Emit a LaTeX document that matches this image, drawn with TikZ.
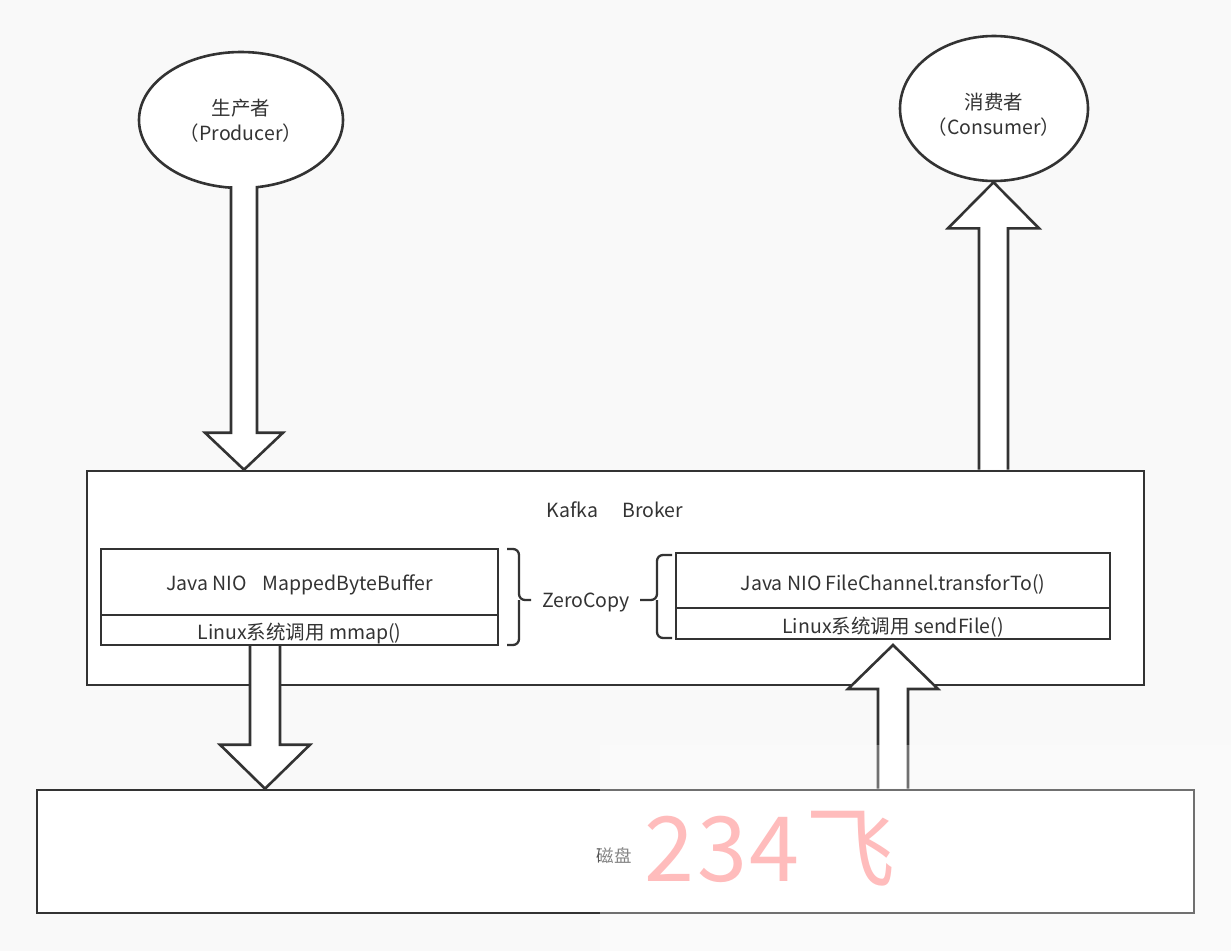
\documentclass[tikz,border=0pt]{standalone}
\usepackage{fontspec}
\setmainfont{Noto Sans CJK SC}
\usetikzlibrary{shapes.geometric,calc}
\definecolor{bg}{HTML}{F9F9F9}
\definecolor{ink}{HTML}{333333}
\definecolor{wm}{HTML}{FFBCBC}
\newcommand\vblock[5]{% tail, tip, shaft half width, head half width, signed head length
  \draw[blk] let \p1=(#1), \p2=(#2) in
    (\x1-#3,\y1) -- (\x1-#3,\y2+#5) -- (\x1-#4,\y2+#5) -- (\x1,\y2)
    -- (\x1+#4,\y2+#5) -- (\x1+#3,\y2+#5) -- (\x1+#3,\y1);}
\begin{document}
\begin{tikzpicture}[x=1pt,y=-1pt,
  line/.style={draw=ink,line width=2.6pt},
  box/.style={line, fill=white, rectangle, inner sep=0pt},
  thinbox/.style={draw=ink, line width=2.3pt, fill=white, rectangle, inner sep=0pt},
  oval/.style={line, fill=white, ellipse, inner sep=0pt},
  lbl/.style={text=ink, font=\fontsize{19.5}{25}\selectfont, inner sep=0pt, align=center},
  blk/.style={line, fill=white, line join=miter},
  brace/.style={draw=ink, line width=2.3pt, rounded corners=6pt}]
\useasboundingbox (0,0) rectangle (1231,951);
\fill[bg] (0,0) rectangle (1231,951);

% main boxes
\node[box, minimum width=1057pt, minimum height=214pt] (broker) at (615.5,578) {};
\node[lbl] (brokerlbl) at (615,510) {Kafka\hspace{24pt}Broker};
\node[box, minimum width=1157pt, minimum height=123pt] (disk) at (615.5,851.5) {};
\node[lbl, text=ink!85, font=\fontsize{17.5}{21}\selectfont] (disklbl) at (614,856) {磁盘};

% ellipses
\node[oval, minimum width=204pt, minimum height=136pt] (prod) at (241,120) {};
\node[lbl] (prodlbl) at (241,121) {生产者\\（Producer）};
\node[oval, minimum width=188pt, minimum height=145pt] (cons) at (994,108.5) {};
\node[lbl] (conslbl) at (994,115) {消费者\\（Consumer）};

% inner boxes left
\node[thinbox, minimum width=397pt, minimum height=66pt] (ltop) at (299.5,582) {};
\node[thinbox, minimum width=397pt, minimum height=30pt] (lbot) at (299.5,630) {};
\node[lbl] at ($(ltop.center)+(0,3)$) {Java NIO\hspace{16pt}MappedByteBuffer};
\node[lbl] at ($(lbot.center)+(0,3)$) {Linux系统调用 mmap()};

% inner boxes right
\node[thinbox, minimum width=434pt, minimum height=55pt] (rtop) at (893,580.5) {};
\node[thinbox, minimum width=434pt, minimum height=31pt] (rbot) at (893,623.5) {};
\node[lbl] at ($(rtop.center)+(0,3.5)$) {Java NIO FileChannel.transforTo()};
\node[lbl] at ($(rbot.center)+(0,3.5)$) {Linux系统调用 sendFile()};

% ZeroCopy with braces
\node[lbl] (zc) at (586,602) {ZeroCopy};
\draw[brace] (507,549) -- (519,549) -- (519,600) -- (531,600);
\draw[brace] (519,600) -- (519,645) -- (507,645);
\draw[brace] (672,555) -- (657,555) -- (657,600) -- (640,600);
\draw[brace] (657,600) -- (657,638) -- (672,638);

% block arrows
\coordinate (pt) at (244,186);
\coordinate (pe) at (broker.north -| pt);
\vblock{pt}{pe}{13}{39}{37}
\coordinate (ct) at (broker.north -| 993.5,0);
\coordinate (ce) at (cons.south -| ct);
\vblock{ct}{ce}{14.5}{45.5}{-46}
\coordinate (lt) at (lbot.south -| 265,0);
\coordinate (le) at (disk.north -| lt);
\vblock{lt}{le}{15}{45}{44}
\coordinate (rt) at (disk.north -| 893,0);
\coordinate (re) at (893,645);
\vblock{rt}{re}{15}{45}{-44}

% faded lower-right region
\fill[white, opacity=0.3] (600,745) rectangle (1231,951);

% handwritten watermark
\node[text=wm, font=\fontsize{90}{96}\selectfont, inner sep=0pt] (wmark) at (770,849) {2\hspace{3pt}3\hspace{3pt}4\hspace{6pt}飞};
\end{tikzpicture}
\end{document}
